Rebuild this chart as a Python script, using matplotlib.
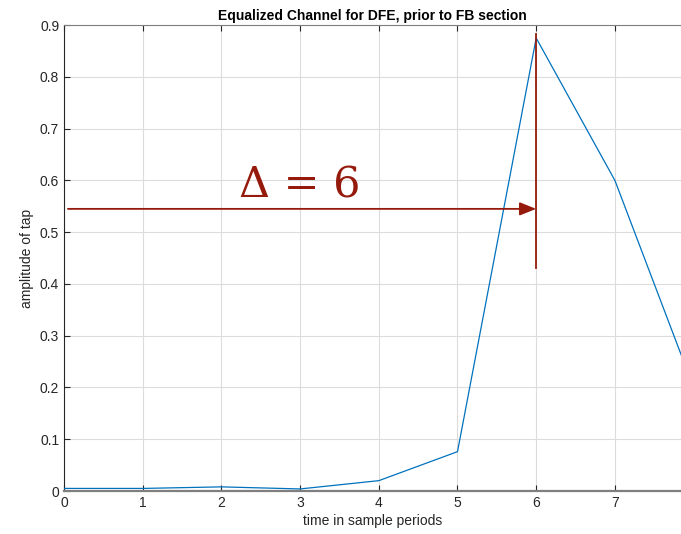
import numpy as np
from matplotlib import pyplot as plt

# tap amplitudes of the equalized channel, one per sample period
taps = np.arange(0, 9)
amp = [0.005, 0.005, 0.008, 0.004, 0.020, 0.076, 0.875, 0.600, 0.200]

delay = 6
cursor_top = 0.882
cursor_bottom = 0.43
arrow_y = 0.545

plt.rcParams['font.family'] = ['Liberation Sans', 'DejaVu Sans']

fig = plt.figure(figsize=(6.81, 5.34), dpi=100)
ax = fig.add_axes([0.094, 0.0805, 0.906, 0.8725])

ax.plot(taps, amp, color="#0072BD", lw=0.9, zorder=3)

red = "#951A0C"
ax.plot([delay, delay], [cursor_bottom, cursor_top], color=red, lw=1.3, zorder=4)
ax.annotate("", xy=(delay, arrow_y), xytext=(0.05, arrow_y),
            arrowprops=dict(arrowstyle="-|>,head_length=1.0,head_width=0.4",
                            color=red, lw=1.3, shrinkA=0, shrinkB=0), zorder=4)
ax.text(2.22, 0.59, "\u0394 = 6", color=red, fontsize=31,
        family=["DejaVu Serif"], va="center", ha="left")

ax.set_xlim(0, 7.84)
ax.set_ylim(0, 0.9)
ax.set_xticks(range(0, 8))
ax.set_yticks(np.arange(0, 0.91, 0.1))
ax.set_yticklabels(["0", "0.1", "0.2", "0.3", "0.4", "0.5", "0.6", "0.7", "0.8", "0.9"])
ax.grid(True, color="#dcdcdc", lw=0.8)
ax.set_axisbelow(True)
ax.tick_params(direction="in", length=4, top=True, labelsize=10, colors="#262626",
               width=0.8)
for side in ["top", "bottom"]:
    ax.spines[side].set_color("#7f7f7f")
ax.spines["bottom"].set_linewidth(1.6)
ax.spines["left"].set_color("#262626")
ax.spines["right"].set_visible(False)

ax.set_title("Equalized Channel for DFE, prior to FB section", fontsize=10,
             fontweight="bold", pad=4)
ax.set_xlabel("time in sample periods", fontsize=10, color="#262626", labelpad=3)
ax.set_ylabel("amplitude of tap", fontsize=10, color="#262626", labelpad=4)

plt.savefig("out.png", dpi=100)
